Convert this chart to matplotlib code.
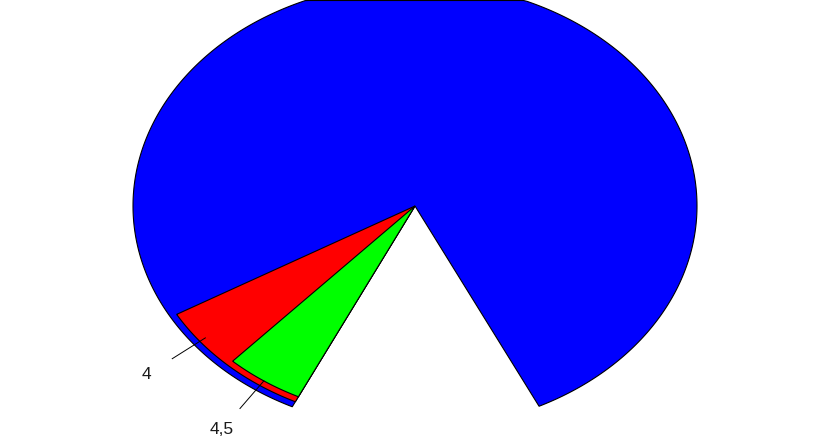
import numpy as np
import matplotlib
matplotlib.use("Agg")
import matplotlib.pyplot as plt
from matplotlib.patches import Polygon

# slice spans in degrees, counter-clockwise from the start angle
START_ANGLE = -63.9
slice_names = ["blue", "4", "4,5", "empty"]
slice_degrees = [273.8, 17.2, 17.1, 51.9]
slice_colors = ["#0000ff", "#ff0000", "#00ff00", None]
labels = ["", "4", "4,5", ""]

# each coloured layer reaches to the end of the last coloured slice
layer_radius = [1.0, 0.975, 0.95]

fig = plt.figure(figsize=(8.31, 4.41), dpi=100)
ax = fig.add_axes([0, 0, 1, 1])
ax.set_xlim(-415 / 282, 416 / 282)
y_top = 206 / 223
ax.set_ylim((206 - 441) / 223, y_top)
ax.set_axis_off()

edges = START_ANGLE + np.concatenate([[0], np.cumsum(slice_degrees)])
stop = edges[3]

# the plot region cuts the top of the pie flat, border included
flat = y_top - 0.5 / 223
for i in range(3):
    theta = np.deg2rad(np.linspace(edges[i], stop, 400))
    px = np.concatenate([[0], layer_radius[i] * np.cos(theta)])
    py = np.concatenate([[0], np.minimum(layer_radius[i] * np.sin(theta), flat)])
    ax.add_patch(Polygon(np.column_stack([px, py]), closed=True,
                         facecolor=slice_colors[i], edgecolor="black", linewidth=0.8))

for i, lab in enumerate(labels):
    if not lab:
        continue
    mid = np.deg2rad((edges[i] + edges[i + 1]) / 2)
    c, s = np.cos(mid), np.sin(mid)
    ax.plot([0.95 * c, 1.1 * c], [0.95 * s, 1.1 * s], color="black", linewidth=0.7)
    ax.text(1.215 * c, 1.215 * s, lab, ha="center", va="center",
            fontsize=12.5, family="Liberation Sans", color="#1a1a1a")

fig.savefig("out.png", dpi=100)
